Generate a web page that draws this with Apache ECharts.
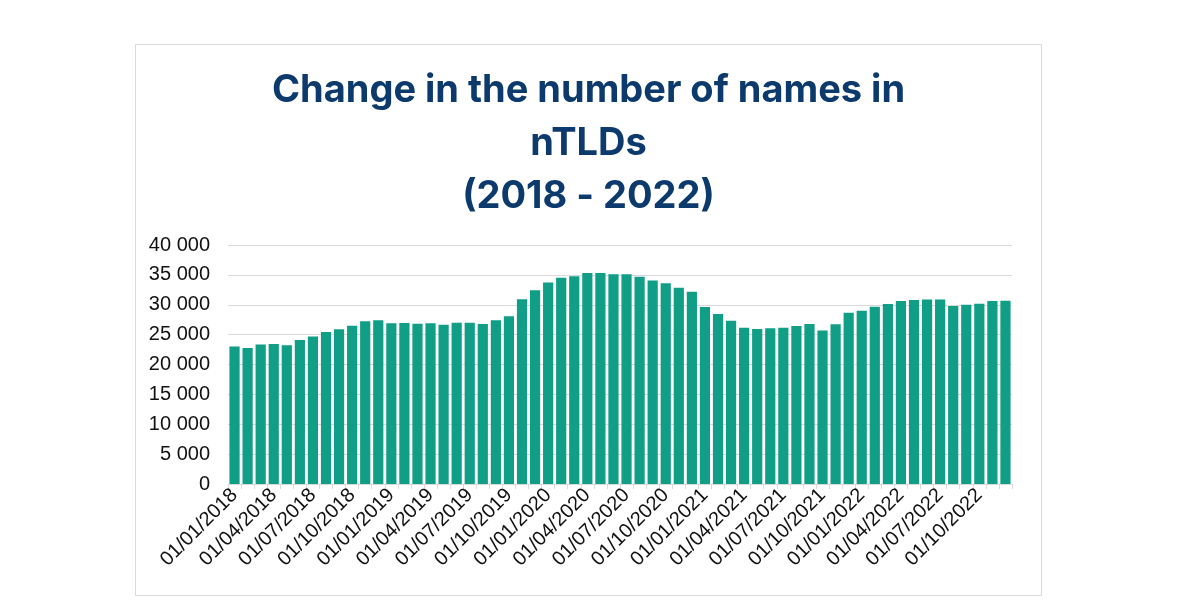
<!DOCTYPE html>
<html>
<head>
<meta charset="utf-8">
<script src="https://cdn.jsdelivr.net/npm/echarts@6/dist/echarts.min.js"></script>
<style>html,body{margin:0;padding:0;background:#fff}#c{width:1177px;height:613px}</style>
</head>
<body>
<div id="c"></div>
<script>
const categories = [
"01/01/2018","01/02/2018","01/03/2018","01/04/2018","01/05/2018","01/06/2018","01/07/2018","01/08/2018","01/09/2018","01/10/2018","01/11/2018","01/12/2018",
"01/01/2019","01/02/2019","01/03/2019","01/04/2019","01/05/2019","01/06/2019","01/07/2019","01/08/2019","01/09/2019","01/10/2019","01/11/2019","01/12/2019",
"01/01/2020","01/02/2020","01/03/2020","01/04/2020","01/05/2020","01/06/2020","01/07/2020","01/08/2020","01/09/2020","01/10/2020","01/11/2020","01/12/2020",
"01/01/2021","01/02/2021","01/03/2021","01/04/2021","01/05/2021","01/06/2021","01/07/2021","01/08/2021","01/09/2021","01/10/2021","01/11/2021","01/12/2021",
"01/01/2022","01/02/2022","01/03/2022","01/04/2022","01/05/2022","01/06/2022","01/07/2022","01/08/2022","01/09/2022","01/10/2022","01/11/2022","01/12/2022"
];
const names = [
23000,22780,23330,23440,23220,24110,24670,25440,25890,26500,27220,27390,
26890,26940,26830,26890,26670,27000,27000,26780,27390,28060,30940,32440,
33720,34500,34780,35330,35330,35110,35110,34670,34060,33610,32830,32170,
29610,28440,27330,26150,25940,26060,26170,26440,26780,25670,26720,28670,
29000,29670,30110,30610,30780,30890,30890,29780,30000,30170,30610,30670
];
const yTicks = {min: 0, max: 40000, interval: 5000};
const titleText = "Change in the number of names in\nnTLDs\n(2018 - 2022)";

const chart = echarts.init(document.getElementById('c'), null, {renderer: 'canvas'});
chart.setOption({
  animation: false,
  backgroundColor: '#ffffff',
  title: {
    text: titleText,
    left: 'center',
    top: 59,
    textStyle: {fontFamily: 'Inter', fontWeight: 700, fontSize: 38, lineHeight: 53, color: '#0c3a6c'}
  },
  graphic: [{
    type: 'rect', shape: {x: 135.5, y: 44.5, width: 906, height: 551},
    style: {fill: 'none', stroke: '#d9d9d9', lineWidth: 1}, silent: true, z: -1
  }],
  grid: {left: 228, right: 165, top: 245, bottom: 129, containLabel: false},
  xAxis: {
    type: 'category',
    data: categories,
    axisLine: {lineStyle: {color: '#d9d9d9'}},
    axisTick: {show: true, interval: 0, length: 5, lineStyle: {color: '#d9d9d9'}},
    axisLabel: {interval: 2, rotate: 45, fontFamily: 'Liberation Sans, Arial', fontSize: 20, color: '#111111', margin: 8}
  },
  yAxis: {
    type: 'value',
    min: yTicks.min, max: yTicks.max, interval: yTicks.interval,
    axisLine: {show: false}, axisTick: {show: false},
    splitLine: {lineStyle: {color: '#d9d9d9'}},
    axisLabel: {
      fontFamily: 'Liberation Sans, Arial', fontSize: 20, color: '#111111', margin: 18,
      formatter: v => String(v).replace(/\B(?=(\d{3})+(?!\d))/g, ' ')
    }
  },
  series: [{
    type: 'bar',
    data: names,
    barCategoryGap: '22%',
    itemStyle: {color: '#109e86'}
  }]
});
</script>
</body>
</html>
